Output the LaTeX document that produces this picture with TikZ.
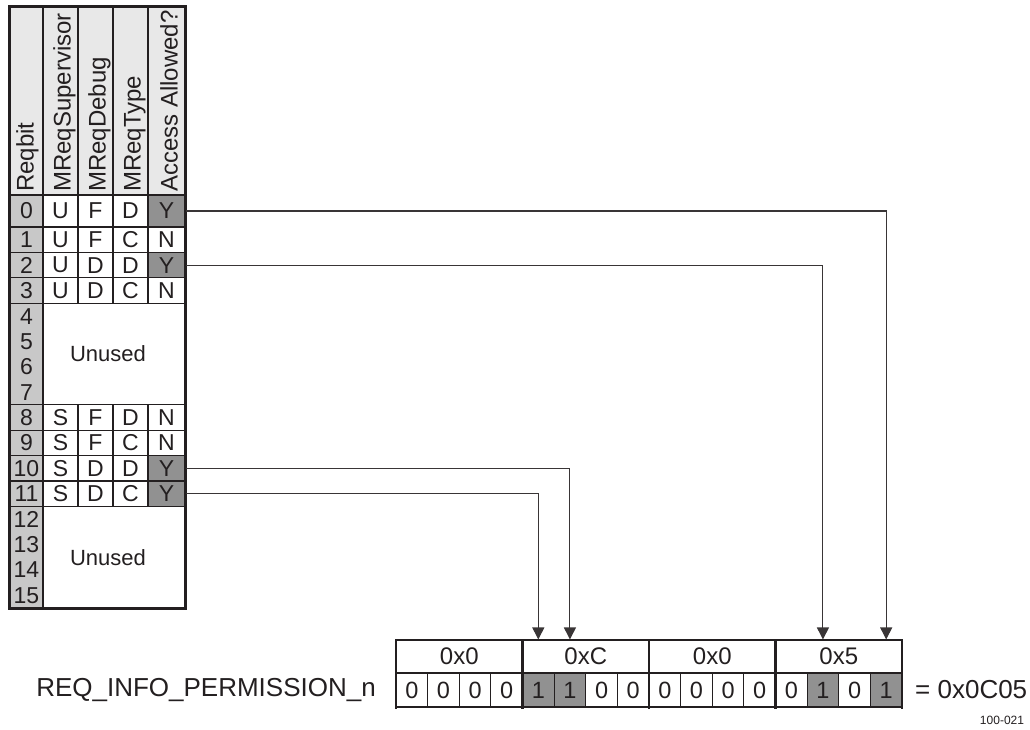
\documentclass[tikz,border=0pt]{standalone}
\usepackage{fontspec}
\setmainfont{Liberation Sans}
\usetikzlibrary{arrows.meta}
\definecolor{ink}{RGB}{35,31,32}
\definecolor{dk}{RGB}{145,145,145}
\definecolor{lt}{RGB}{200,200,200}
\definecolor{hd}{RGB}{232,232,232}
\newcommand\trow[9]{%
 \node[cell,fill=lt,minimum width=33pt,minimum height=#3pt] (#1b) at (26.5,#2) {#4};
 \node[cell,minimum width=35pt,minimum height=#3pt] (#1s) at (60.5,#2) {#5};
 \node[cell,minimum width=35pt,minimum height=#3pt] (#1d) at (95.5,#2) {#6};
 \node[cell,minimum width=35pt,minimum height=#3pt] (#1t) at (130.5,#2) {#7};
 \node[cell,fill=#9,minimum width=37pt,minimum height=#3pt] (#1a) at (166.5,#2) {#8};
}
\begin{document}
\begin{tikzpicture}[x=1pt,y=-1pt,
  cell/.style={draw=ink,line width=1.1pt,inner sep=0pt,text=ink,font=\fontsize{23}{24}\selectfont},
  hdr/.style={rotate=90,anchor=base west,inner sep=0pt,text=ink,font=\fontsize{24}{28}\selectfont},
  txt/.style={inner sep=0pt,text=ink,font=\fontsize{23}{24}\selectfont},
  unu/.style={inner sep=0pt,text=ink,font=\fontsize{22}{24}\selectfont},
  bit/.style={cell,font=\fontsize{23.5}{26}\selectfont},
  nib/.style={cell,font=\fontsize{24}{28}\selectfont},
  lbl/.style={inner sep=0pt,text=ink,font=\fontsize{26}{30}\selectfont},
  arr/.style={draw=ink!90,line width=1.1pt,-{Triangle[length=12pt,width=12pt]}},
  thick border/.style={draw=ink,line width=2.7pt}]
\useasboundingbox (0,0) rectangle (1030,730);
% header cells
\node[cell,fill=hd,minimum width=33pt,minimum height=188pt] (h0) at (26.5,101) {};
\node[cell,fill=hd,minimum width=35pt,minimum height=188pt] (h1) at (60.5,101) {};
\node[cell,fill=hd,minimum width=35pt,minimum height=188pt] (h2) at (95.5,101) {};
\node[cell,fill=hd,minimum width=35pt,minimum height=188pt] (h3) at (130.5,101) {};
\node[cell,fill=hd,minimum width=37pt,minimum height=188pt] (h4) at (166.5,101) {};
\node[hdr] (t0) at (33.5,192) {Reqbit};
\node[hdr] (t1) at (70.5,192) {MReqSupervisor};
\node[hdr] (t2) at (105.5,192) {MReqDebug};
\node[hdr] (t3) at (140.5,192) {MReqType};
\node[hdr] (t4) at (177.5,192) {Access Allowed?};
% rows
\trow{r0}{211}{32}{0}{U}{F}{D}{Y}{dk}
\trow{r1}{239.7}{25.4}{1}{U}{F}{C}{N}{white}
\trow{r2}{265.1}{25.4}{2}{U}{D}{D}{Y}{dk}
\trow{r3}{290.5}{25.4}{3}{U}{D}{C}{N}{white}
\node[cell,fill=lt,minimum width=33pt,minimum height=101.6pt] (ua) at (26.5,354) {};
\node[cell,minimum width=142pt,minimum height=101.6pt] (ub) at (114,354) {};
\node[txt] (u4) at (26.5,316.2) {4};
\node[txt] (u5) at (26.5,341.6) {5};
\node[txt] (u6) at (26.5,367) {6};
\node[txt] (u7) at (26.5,392.4) {7};
\node[unu] (ut) at (108,354) {Unused};
\trow{r8}{417.5}{25.4}{8}{S}{F}{D}{N}{white}
\trow{r9}{442.9}{25.4}{9}{S}{F}{C}{N}{white}
\trow{r10}{468.3}{25.4}{10}{S}{D}{D}{Y}{dk}
\trow{r11}{493.7}{25.4}{11}{S}{D}{C}{Y}{dk}
\node[cell,fill=lt,minimum width=33pt,minimum height=101.6pt] (va) at (26.5,557.2) {};
\node[cell,minimum width=142pt,minimum height=101.6pt] (vb) at (114,557.2) {};
\node[txt] (v12) at (26.5,519.1) {12};
\node[txt] (v13) at (26.5,544.5) {13};
\node[txt] (v14) at (26.5,569.9) {14};
\node[txt] (v15) at (26.5,595.3) {15};
\node[unu] (vt) at (108,557.2) {Unused};
\draw[draw=ink,line width=1.5pt] (h0.south west) -- (h4.south east);
\draw[thick border] (h0.north west) rectangle (vb.south east);
% register
\foreach \i/\v in {0/0x0,1/0xC,2/0x0,3/0x5}{
  \node[nib,minimum width=126.5pt,minimum height=33pt] (n\i) at ({396+126.5*\i+63.25},656.5) {\v};
}
\foreach \k/\v/\f in {0/0/white,1/0/white,2/0/white,3/0/white,4/1/dk,5/1/dk,6/0/white,7/0/white,8/0/white,9/0/white,10/0/white,11/0/white,12/0/white,13/1/dk,14/0/white,15/1/dk}{
  \pgfmathtruncatemacro{\bn}{15-\k}
  \node[bit,fill=\f,minimum width=31.625pt,minimum height=34pt] (b\bn) at ({396+31.625*\k+15.81},690) {\v};
}
\foreach \xx in {0,1,2,3,4}{
  \draw[thick border] ({396+126.5*\xx},640) -- ({396+126.5*\xx},709);
}
% labels
\node[lbl,anchor=east] (name) at (376,690) {REQ\_INFO\_PERMISSION\_n};
\node[lbl,anchor=west] (res) at (915,690) {= 0x0C05};
\node[inner sep=0pt,text=ink,font=\fontsize{12}{14}\selectfont] (fig) at (1002,720) {100-021};
% arrows
\draw[arr] (r0a.east) -| (b0.north |- n3.north);
\draw[arr] (r2a.east) -| (b2.north |- n3.north);
\draw[arr] (r10a.east) -| (b10.north |- n1.north);
\draw[arr] (r11a.east) -| (b11.north |- n1.north);
\end{tikzpicture}
\end{document}
